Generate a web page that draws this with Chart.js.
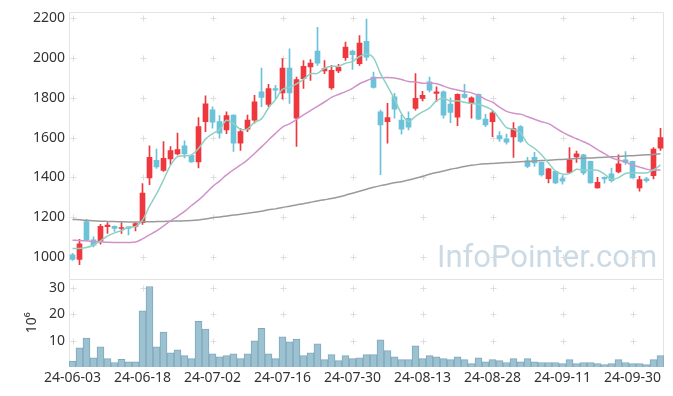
<!DOCTYPE html>
<html><head><meta charset="utf-8">
<script src="https://cdn.jsdelivr.net/npm/chart.js@4/dist/chart.umd.min.js"></script>
<style>html,body{margin:0;padding:0;background:#fff;}#wrap{position:relative;width:673px;height:396px;}</style>
</head><body><div id="wrap"><canvas id="c" width="673" height="396"></canvas></div>
<script>
const dates = ['24-06-03','24-06-04','24-06-05','24-06-07','24-06-10','24-06-11','24-06-12','24-06-13','24-06-14','24-06-17',
'24-06-18','24-06-19','24-06-20','24-06-21','24-06-24','24-06-25','24-06-26','24-06-27','24-06-28','24-07-01',
'24-07-02','24-07-03','24-07-04','24-07-05','24-07-08','24-07-09','24-07-10','24-07-11','24-07-12','24-07-15',
'24-07-16','24-07-17','24-07-18','24-07-19','24-07-22','24-07-23','24-07-24','24-07-25','24-07-26','24-07-29',
'24-07-30','24-07-31','24-08-01','24-08-02','24-08-05','24-08-06','24-08-07','24-08-08','24-08-09','24-08-12',
'24-08-13','24-08-14','24-08-16','24-08-19','24-08-20','24-08-21','24-08-22','24-08-23','24-08-26','24-08-27',
'24-08-28','24-08-29','24-08-30','24-09-02','24-09-03','24-09-04','24-09-05','24-09-06','24-09-09','24-09-10',
'24-09-11','24-09-12','24-09-13','24-09-19','24-09-20','24-09-23','24-09-24','24-09-25','24-09-26','24-09-27',
'24-09-30','24-10-02','24-10-04','24-10-07','24-10-08'];
const openP = [1010,987,1177,1085,1077,1152,1153,1142,1150,1153,
1172,1397,1485,1435,1492,1517,1558,1510,1477,1680,
1740,1680,1638,1713,1572,1642,1688,1830,1767,1847,
1825,1950,1697,1897,1955,2035,1935,1850,1935,2002,
2035,1972,2085,1905,1730,1680,1805,1688,1697,1747,
1797,1880,1822,1830,1768,1702,1818,1772,1818,1693,
1680,1610,1593,1603,1655,1483,1500,1475,1393,1430,
1393,1425,1502,1513,1480,1347,1400,1418,1427,1488,
1480,1347,1392,1408,1547];
const closeP = [987,1065,1085,1058,1153,1160,1143,1147,1143,1167,
1320,1500,1452,1495,1535,1540,1517,1477,1655,1770,
1677,1622,1710,1572,1630,1688,1780,1802,1847,1838,
1950,1825,1892,1958,1975,1975,1947,1938,1953,2055,
2017,2075,2005,1852,1663,1700,1743,1642,1652,1797,
1813,1838,1830,1713,1727,1818,1802,1800,1693,1663,
1725,1593,1577,1645,1580,1455,1472,1412,1443,1372,
1380,1488,1518,1422,1372,1375,1392,1383,1468,1475,
1397,1388,1383,1542,1600];
const highP = [1017,1088,1187,1100,1163,1172,1155,1172,1152,1172,
1368,1558,1542,1580,1555,1622,1583,1512,1700,1810,
1755,1710,1730,1715,1647,1713,1813,1950,1868,1863,
1997,2047,1905,1988,1992,2155,1988,1963,1968,2080,
2040,2113,2197,1930,1738,1772,1822,1713,1730,1922,
1833,1905,1855,1835,1800,1820,1868,1805,1820,1717,
1735,1630,1617,1675,1660,1500,1525,1478,1445,1432,
1408,1550,1532,1515,1482,1400,1402,1445,1513,1530,
1482,1405,1400,1550,1647];
const lowP = [982,960,1080,1050,1063,1117,1127,1117,1110,1130,
1163,1363,1445,1430,1463,1513,1497,1475,1447,1630,
1647,1597,1620,1530,1535,1630,1672,1755,1755,1795,
1793,1772,1555,1847,1888,1963,1922,1842,1927,1988,
1943,1963,1988,1848,1413,1572,1697,1617,1638,1738,
1785,1830,1780,1697,1675,1660,1797,1697,1690,1655,
1605,1580,1567,1500,1575,1448,1455,1405,1372,1368,
1365,1422,1475,1413,1370,1345,1370,1375,1422,1465,
1395,1330,1375,1392,1535];
const ma5 = [1042,1042,1047,1058,1080,1104,1120,1132,1149,1152,
1184,1255,1316,1387,1460,1504,1508,1513,1545,1592,
1619,1640,1687,1670,1642,1644,1676,1694,1749,1791,
1843,1852,1870,1893,1921,1923,1949,1959,1958,1974,
1982,2008,2021,2001,1922,1859,1793,1720,1680,1707,
1729,1748,1786,1798,1784,1785,1778,1772,1768,1755,
1737,1695,1650,1641,1624,1570,1546,1513,1472,1431,
1416,1419,1440,1436,1436,1435,1416,1389,1398,1419,
1423,1422,1422,1437,1462];
const ma20 = [1083,1082,1080,1077,1075,1073,1072,1072,1072,1074,
1090,1110,1130,1155,1180,1203,1228,1258,1285,1318,
1353,1381,1412,1438,1462,1488,1520,1553,1588,1621,
1653,1669,1691,1714,1736,1757,1779,1802,1817,1831,
1848,1871,1886,1900,1901,1902,1900,1892,1882,1880,
1873,1875,1871,1859,1847,1839,1832,1825,1812,1792,
1778,1753,1732,1722,1718,1705,1692,1680,1670,1649,
1627,1609,1594,1579,1562,1539,1519,1498,1487,1477,
1461,1451,1441,1436,1437];
const ma120 = [1188,1186,1184,1181,1179,1178,1177,1176,1175,1175,
1176,1176,1177,1178,1179,1180,1181,1182,1185,1190,
1196,1200,1205,1210,1214,1219,1224,1229,1236,1241,
1248,1254,1261,1267,1274,1281,1287,1293,1301,1310,
1320,1330,1340,1350,1358,1365,1372,1378,1386,1395,
1405,1415,1424,1432,1440,1447,1454,1460,1465,1468,
1470,1472,1474,1476,1478,1480,1482,1484,1486,1488,
1490,1492,1494,1496,1497,1499,1501,1503,1505,1507,
1509,1511,1513,1515,1518];
const volume = [2.2,7.3,11.0,3.5,7.6,3.2,1.7,2.9,2.0,2.0,
21.3,30.5,7.6,13.2,5.4,6.5,4.3,3.2,17.3,14.4,
5.0,3.9,4.3,5.0,3.2,5.0,9.9,14.7,5.0,3.2,
11.4,9.5,10.6,4.3,5.4,8.8,2.8,4.7,2.4,4.3,
3.2,3.5,4.7,4.7,10.3,6.2,3.9,2.8,2.8,8.0,
3.2,4.3,3.9,3.2,2.8,3.9,2.8,1.3,3.5,2.0,
2.8,2.4,1.7,3.2,2.0,3.2,2.0,1.7,1.7,1.7,
1.3,2.8,1.3,1.7,1.7,1.3,0.9,1.3,2.8,1.7,
1.3,1.3,0.9,2.8,4.3];
const priceTicks = [1000,1200,1400,1600,1800,2000,2200];
const volTicks = [10,20,30];
const xTickIdx = [0,10,20,30,40,50,60,70,80];

const UP = '#ee383d', DOWN = '#6cc2d9';
const cColors = closeP.map((c,i)=> c >= openP[i] ? UP : DOWN);
const FONT = {family:'Noto Sans', size:14};

const decor = {
  id:'decor',
  beforeDatasetsDraw(chart){
    const ctx = chart.ctx, xs = chart.scales.x, y = chart.scales.y, yv = chart.scales.yv;
    ctx.save();
    ctx.font = '31px Roboto';
    ctx.fillStyle = '#cbdae5';
    ctx.textBaseline = 'alphabetic';
    ctx.fillText('InfoPointer.com', 437, 267);
    ctx.strokeStyle = '#e3e3e3'; ctx.lineWidth = 1;
    const L = Math.round(xs.left)+0.5, R = Math.round(xs.right)-0.5;
    [[y.top,y.bottom],[yv.top,yv.bottom]].forEach(([t,b])=>{
      ctx.beginPath();
      ctx.moveTo(L, Math.round(b)); ctx.lineTo(L, Math.round(t)+0.5); ctx.lineTo(R, Math.round(t)+0.5); ctx.lineTo(R, Math.round(b));
      ctx.stroke();
    });
    ctx.strokeStyle = '#dedede';
    const cross = (px,py)=>{ px=Math.round(px)+0.5; py=Math.round(py)+0.5; ctx.beginPath(); ctx.moveTo(px-3,py); ctx.lineTo(px+3,py); ctx.moveTo(px,py-3); ctx.lineTo(px,py+3); ctx.stroke(); };
    xTickIdx.forEach(i=>{
      const px = xs.getPixelForValue(i);
      priceTicks.forEach(v=>cross(px, y.getPixelForValue(v)));
      volTicks.forEach(v=>cross(px, yv.getPixelForValue(v)));
    });
    ctx.restore();
  }
};

new Chart(document.getElementById('c'), {
  type:'bar',
  data:{
    labels: dates,
    datasets:[
      {type:'line', label:'MA5', data: ma5, yAxisID:'y', borderColor:'#8fd0c4', borderWidth:1.5, pointRadius:0, tension:0.3, order:1},
      {type:'line', label:'MA20', data: ma20, yAxisID:'y', borderColor:'#cf93ca', borderWidth:1.5, pointRadius:0, tension:0.3, order:2},
      {type:'line', label:'MA120', data: ma120, yAxisID:'y', borderColor:'#9a9a9a', borderWidth:1.5, pointRadius:0, tension:0.3, order:3},
      {label:'body', data: openP.map((o,i)=>[o, closeP[i]]), yAxisID:'y', backgroundColor:cColors, barThickness:5, grouped:false, minBarLength:1, order:4},
      {label:'wick', data: lowP.map((l,i)=>[l, highP[i]]), yAxisID:'y', backgroundColor:cColors, barThickness:1, grouped:false, order:5},
      {label:'volume', data: volume, yAxisID:'yv', backgroundColor:'#9cc1d1', borderColor:'#7fa8bb', borderWidth:1, barPercentage:1, categoryPercentage:1, grouped:false, order:6}
    ]
  },
  options:{
    responsive:false, animation:false, devicePixelRatio:1,
    layout:{padding:{top:10, right:9, left:0, bottom:0}},
    plugins:{legend:{display:false}, tooltip:{enabled:false}},
    scales:{
      x:{type:'category', offset:true, grid:{display:false, drawTicks:false}, border:{display:false},
        afterBuildTicks:s=>{ s.ticks = xTickIdx.map(i=>({value:i})); },
        ticks:{autoSkip:false, maxRotation:0, minRotation:0, padding:3, color:'#333', font:FONT, callback:(v)=>dates[v]},
        afterFit:s=>{ s.height = 29; }},
      yv:{type:'linear', position:'left', stack:'s', stackWeight:89, min:0, max:33.5,
        grid:{display:false, drawTicks:false}, border:{display:false},
        afterBuildTicks:s=>{ s.ticks = volTicks.map(v=>({value:v})); },
        ticks:{padding:4, color:'#333', font:FONT, callback:v=>String(v)},
        title:{display:true, text:'10⁶', color:'#333', font:FONT, padding:{top:24, bottom:0}},
        afterFit:s=>{ s.width = 69; }},
      y:{type:'linear', position:'left', stack:'s', stackWeight:268, min:890, max:2230,
        grid:{display:false, drawTicks:false}, border:{display:false},
        afterBuildTicks:s=>{ s.ticks = priceTicks.map(v=>({value:v})); },
        ticks:{padding:4, color:'#333', font:FONT, callback:v=>String(v)},
        afterFit:s=>{ s.width = 69; }}
    }
  },
  plugins:[decor]
});
</script></body></html>
